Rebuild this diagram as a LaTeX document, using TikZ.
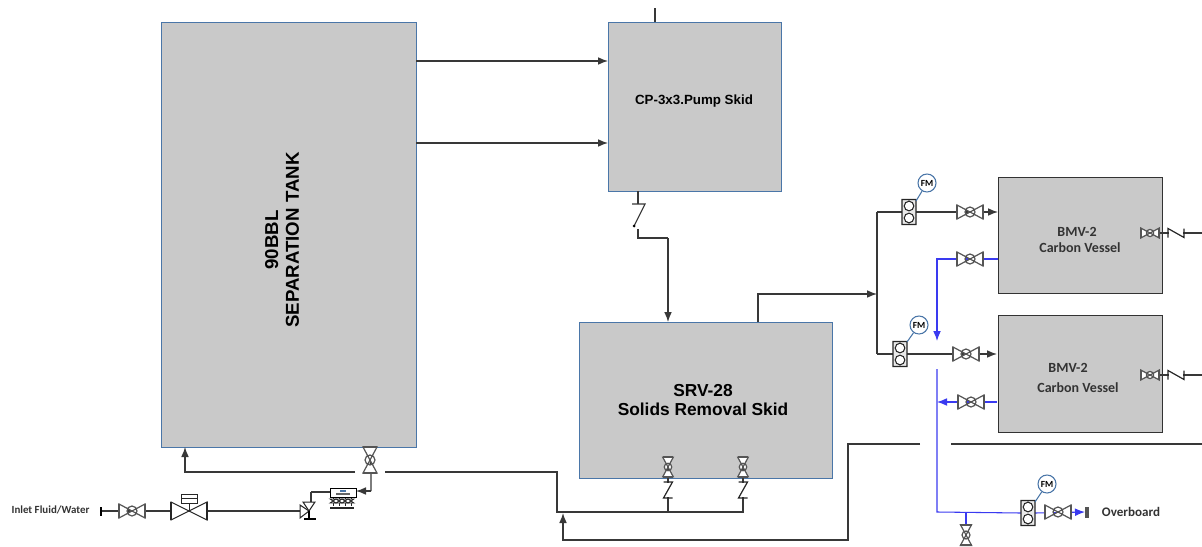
\documentclass[tikz,border=0pt]{standalone}
\usepackage{fontspec}
\setmainfont{Liberation Sans}
\newfontfamily\labelfont{Carlito}
\usetikzlibrary{arrows.meta}
\definecolor{boxgray}{HTML}{C9C9C9}
\definecolor{boxblue}{HTML}{4A76A8}
\definecolor{linegray}{HTML}{383838}
\definecolor{valvegray}{HTML}{555555}
\definecolor{flowblue}{HTML}{3A3AF0}
\tikzset{
	x=0.75pt, y=-0.75pt,
	>={Latex[length=7.5pt,width=5.8pt]},
	pipe/.style={draw=linegray, line width=0.85pt},
	bluepipe/.style={draw=flowblue, line width=0.8pt},
	skid/.style={draw=boxblue, fill=boxgray, line width=0.8pt, anchor=north west, inner sep=0pt},
	vessel/.style={draw=black!80, fill=boxgray, line width=0.8pt, anchor=north west, inner sep=0pt},
	bigtext/.style={font=\bfseries, align=center, inner sep=0pt},
	smalltext/.style={font=\labelfont\bfseries\fontsize{10.5}{12}\selectfont, text=black!80, inner sep=0pt},
	fmtag/.style={circle, draw=boxblue, fill=white, line width=0.8pt, minimum size=13.5pt, inner sep=0pt, font=\labelfont\bfseries\fontsize{7}{7}\selectfont},
}
\begin{document}
\begin{tikzpicture}
\useasboundingbox (0,0) rectangle (1202,546);

\def\drawvalve#1#2#3{% {coordinate}{angle}{scale}
	\draw[valvegray, line width=0.9pt, fill=white, shift={(#1)}, rotate=#2, scale=#3]
		(-13,-7) -- (-13,7) -- (13,-7) -- (13,7) -- cycle (0,0) circle (5);
	\draw[valvegray, line width=1.5pt, shift={(#1)}, rotate=#2, scale=#3]
		(-13,-7) -- (-13,7) (13,-7) -- (13,7);
}
\def\drawcheck#1#2{% {coordinate}{angle}
	\draw[white, line width=2pt, shift={(#1)}, rotate=#2] (-7,0) -- (7,0);
	\draw[black!85, line width=0.9pt, shift={(#1)}, rotate=#2]
		(-8,4.5) -- (-8,-4.5) -- (8,4.5) -- (8,-4.5);
}
\def\drawmeter#1{% {coordinate}
	\draw[black!85, fill=boxgray!40, line width=0.8pt, shift={(#1)}]
		(-7,-12.5) rectangle (7,12.5) (0,-6) circle (4.8) (0,6) circle (4.8);
}

% boxes
\node[skid, minimum width=191.25pt, minimum height=318.75pt] (tank) at (161,22) {};
\node[skid, minimum width=129.75pt, minimum height=126.75pt] (pump) at (608,22) {};
\node[skid, minimum width=189.75pt, minimum height=117pt] (srv) at (579,322) {};
\node[vessel, minimum width=123pt, minimum height=87pt] (bmvone) at (998,177) {};
\node[vessel, minimum width=123pt, minimum height=87.75pt] (bmvtwo) at (998,315) {};

\node[bigtext, rotate=90, font=\bfseries\fontsize{14}{15.5}\selectfont] (tanktext) at (282,240) {90BBL\\SEPARATION TANK};
\node[bigtext, font=\bfseries\fontsize{10}{12}\selectfont] (pumptext) at (694,101.5) {CP-3x3.Pump Skid};
\node[bigtext, font=\bfseries\fontsize{13}{14}\selectfont] (srvtext) at (703,400) {SRV-28\\Solids Removal Skid};
\node[smalltext] (bmvonea) at (1077,232) {BMV-2};
\node[smalltext] (bmvoneb) at (1080,248) {Carbon Vessel};
\node[smalltext] (bmvtwoa) at (1068,368) {BMV-2};
\node[smalltext] (bmvtwob) at (1078,388) {Carbon Vessel};
\node[smalltext, font=\labelfont\bfseries\fontsize{8.2}{9}\selectfont] (inlettext) at (50.5,510) {Inlet Fluid/Water};
\node[smalltext, font=\labelfont\bfseries\fontsize{9.8}{11}\selectfont] (overtext) at (1131,512) {Overboard};

% pipe points
\foreach \name/\x/\y in {
	pumptop/655/8, pumpin/655/22, ina/416/61, inb/608/61, inc/416/143, ind/608/143,
	pumpout/638/191, chk/638/204, pa/638/229, pb/638/238, pc/668/238, pd/668/322,
	sa/758/322, sb/758/294, sc/877/294, ta/877/212, tb/877/354,
	ma/909/212, va/970/212, tae/998/212, mb/900/354, vb/966/354, tbe/997/354,
	ba/998/259, vc/970/259, bb/937/259, bc/937/341, bd/937/369, be/937/512,
	bf/997/402, vd/971/402, bg/937/402,
	mc/1028/513, bh/1021/513, bi/1035/513, ve/1058/512, bj/1085/512,
	bl/966/512, vf/966/535,
	ra/1150/233, rb/1176/233, rc/1202/233, rd/1150/375, re/1176/375, rf/1202/375,
	la/951/444, lb/1202/444, lc/920/444, ld/848/444, le/848/540, lf/563/540, lg/563/513,
	sva/668/467, svb/743/467, ca/668/490, cb/743/490, sda/668/512, sdb/743/512, sdc/557/512,
	sdd/557/472, sde/385/472, sdf/355/472, sdg/185/472, sdh/185/447,
	tv/370/460, fa/371/473, fb/371/491, fc/356/491, fd/311/492, fe/311/503,
	ia/101/511, ib/132/511, ic/189/511, id/300/511
	} \coordinate (\name) at (\x,\y);

% main pipes
\draw[pipe] (pumptop) -- (pumpin);
\draw[pipe, ->] (ina) -- (inb);
\draw[pipe, ->] (inc) -- (ind);
\draw[pipe] (pumpout) -- (chk) (pa) -- (pb) -- (pc);
\draw[pipe, ->] (pc) -- (pd);
\draw[pipe, ->] (sa) -- (sb) -- (sc);
\draw[pipe] (ta) -- (tb);
\draw[pipe, ->] (ta) -- (tae);
\draw[pipe, ->] (tb) -- (tbe);
\draw[pipe] (la) -- (lb);
\draw[pipe, ->] (lc) -- (ld) -- (le) -- (lf) -- (lg);
\draw[pipe] (sva) -- (sda);
\draw[pipe] (svb) -- (sdb) -- (sdc) -- (sdd) -- (sde);
\draw[pipe, ->] (sdf) -- (sdg) -- (sdh);
\draw[pipe] (tv) -- (fa) -- (fb);
\draw[pipe, ->] (fb) -- (fc);
\draw[pipe] (ia) -- (id);
\draw[pipe] (ra) -- (rc);
\draw[pipe] (rd) -- (rf);

% blue pipes
\draw[bluepipe, ->] (ba) -- (bb) -- (bc);
\draw[bluepipe] (bd) -- (be) -- (bh);
\draw[bluepipe, ->] (bf) -- (bg);
\draw[bluepipe] (bl) -- (vf);
\draw[bluepipe, ->] (bi) -- (bj);

% valves
\drawvalve{va}{0}{1}
\drawvalve{vb}{0}{1}
\drawvalve{vc}{0}{1}
\drawvalve{vd}{0}{1}
\drawvalve{ve}{0}{1}
\drawvalve{vf}{90}{0.8}
\drawvalve{ib}{0}{1}
\drawvalve{tv}{90}{1}
\drawvalve{sva}{90}{0.75}
\drawvalve{svb}{90}{0.75}
\drawvalve{ra}{0}{0.72}
\drawvalve{rd}{0}{0.72}

% checks
\drawcheck{rb}{0}
\drawcheck{re}{0}
\drawcheck{ca}{90}
\drawcheck{cb}{90}
\draw[pipe] (632,204) -- (645,204) -- (634,226);
\fill[black] (634,226) circle (1.5);

% meters
\drawmeter{ma}
\drawmeter{mb}
\drawmeter{mc}
\foreach \name/\x/\y/\fx/\fy in {fmone/927/183/916/201, fmtwo/919/325/907/342, fmthree/1047/484/1035/502} {
	\coordinate (\name base) at (\fx,\fy);
	\node[fmtag] (\name) at (\x,\y) {FM};
	\draw[boxblue, line width=0.8pt] (\name base) -- (\name);
}

% overboard end and inlet end
\draw[valvegray, line width=2.5pt] (1087,507) -- (1087,518);
\draw[black, line width=1pt] (101,507) -- (101,516);

% control valve
\draw[black!85, line width=0.75pt, fill=white] (171,502) -- (171,520) -- (207,502) -- (207,520) -- cycle;
\draw[black!85, line width=1.3pt] (171,502) -- (171,520) (207,502) -- (207,520);
\draw[black!85, line width=0.75pt] (189,511) -- (189,503);
\draw[black!85, line width=0.75pt, fill=white] (181,494) rectangle (197,503);
\draw[black!85, line width=0.75pt] (181,498.5) -- (197,498.5);

% angle valve
\draw[pipe] (fd) -- (330,492) (fd) -- (fe);
\draw[black!85, line width=0.75pt, fill=white] (300,505) -- (300,518) -- (309,511) -- cycle;
\draw[black!85, line width=0.75pt, fill=white] (303,502) -- (315,502) -- (309,511) -- cycle;
\draw[black, line width=0.9pt] (309,511) -- (309,519) (304,519) -- (316,519);

% flow element
\foreach \x in {333, 339, 345, 351} {
	\draw[black!85, line width=0.6pt] (\x,495) -- (\x,506);
	\draw[black!85, line width=0.6pt, fill=boxgray] (\x-3,499) -- (\x+3,499) -- (\x-3,503) -- (\x+3,503) -- cycle;
	\draw[black!85, line width=0.9pt] (\x-3,508) -- (\x+3,508);
}
\draw[black, line width=0.75pt, fill=white] (330,488) rectangle (356,497);
\fill[boxblue] (340,490) rectangle (346,492);
\fill[black!60] (336,493) rectangle (350,495);
\end{tikzpicture}
\end{document}
